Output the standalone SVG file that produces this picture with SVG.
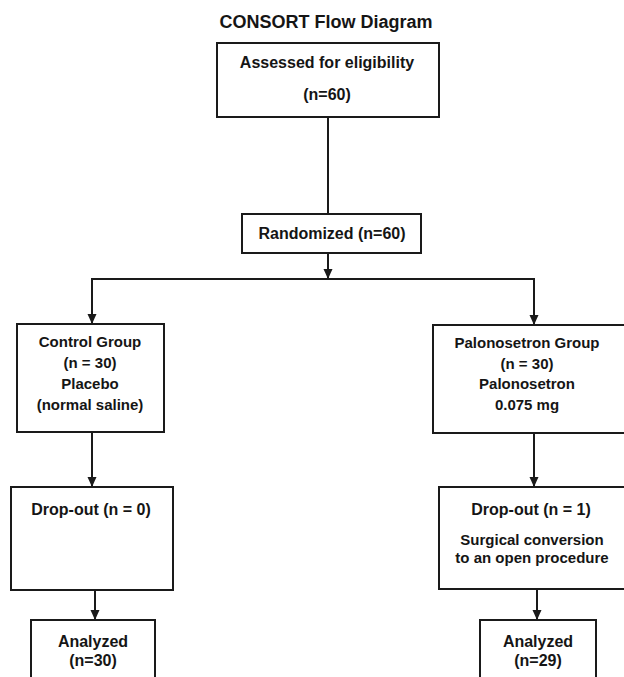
<svg xmlns="http://www.w3.org/2000/svg" width="624" height="677" viewBox="0 0 624 677">
<style>
  .box { fill: #ffffff; stroke: #1a1a1a; stroke-width: 2; }
  .conn { fill: none; stroke: #1a1a1a; stroke-width: 2; }
  .t { font-family: "Liberation Sans", Arial, sans-serif; font-weight: bold; fill: #151515; text-anchor: middle; }
  .s16 { font-size: 16px; }
  .s15 { font-size: 15px; }
  .title { font-family: "Liberation Sans", Arial, sans-serif; font-weight: bold; font-size: 18px; fill: #151515; text-anchor: middle; }
</style>
<defs>
  <marker id="arrow" markerUnits="userSpaceOnUse" markerWidth="10" markerHeight="10" viewBox="0 0 10 10" refX="10" refY="5" orient="auto">
    <path d="M0,0.5 L10,5 L0,9.5 Z" fill="#1a1a1a"/>
  </marker>
</defs>
<rect x="0" y="0" width="624" height="677" fill="#ffffff"/>

<text id="title" class="title" x="326" y="28">CONSORT Flow Diagram</text>

<g id="connectors">
  <line class="conn" x1="328" y1="117" x2="328" y2="214"/>
  <line class="conn" x1="328" y1="253" x2="328" y2="279" marker-end="url(#arrow)"/>
  <line class="conn" x1="91" y1="279" x2="535" y2="279"/>
  <line class="conn" x1="92" y1="278" x2="92" y2="324" marker-end="url(#arrow)"/>
  <line class="conn" x1="534" y1="278" x2="534" y2="325" marker-end="url(#arrow)"/>
  <line class="conn" x1="92" y1="432" x2="92" y2="487" marker-end="url(#arrow)"/>
  <line class="conn" x1="534" y1="433" x2="534" y2="487" marker-end="url(#arrow)"/>
  <line class="conn" x1="95" y1="590" x2="95" y2="620" marker-end="url(#arrow)"/>
  <line class="conn" x1="537" y1="589" x2="537" y2="620" marker-end="url(#arrow)"/>
</g>

<g id="assessed">
  <rect class="box" x="217" y="43" width="222" height="74"/>
  <text class="t s16" x="327" y="68">Assessed for eligibility</text>
  <text class="t s16" x="327" y="100">(n=60)</text>
</g>

<g id="randomized">
  <rect class="box" x="242" y="214" width="179" height="39"/>
  <text class="t s16" x="332" y="239">Randomized (n=60)</text>
</g>

<g id="control">
  <rect class="box" x="17" y="324" width="147" height="108"/>
  <text class="t s15" x="90" y="347">Control Group</text>
  <text class="t s15" x="90" y="368">(n = 30)</text>
  <text class="t s15" x="90" y="389">Placebo</text>
  <text class="t s15" x="90" y="410">(normal saline)</text>
</g>

<g id="palonosetron">
  <rect class="box" x="433" y="325" width="200" height="108"/>
  <text class="t s15" x="527" y="348">Palonosetron Group</text>
  <text class="t s15" x="527" y="369">(n = 30)</text>
  <text class="t s15" x="527" y="389">Palonosetron</text>
  <text class="t s15" x="527" y="410">0.075 mg</text>
</g>

<g id="dropout-control">
  <rect class="box" x="11" y="487" width="162" height="103"/>
  <text class="t s16" x="91" y="515">Drop-out (n = 0)</text>
</g>

<g id="dropout-palonosetron">
  <rect class="box" x="439" y="487" width="200" height="102"/>
  <text class="t s16" x="531" y="515">Drop-out (n = 1)</text>
  <text class="t s15" x="532" y="545">Surgical conversion</text>
  <text class="t s15" x="532" y="563">to an open procedure</text>
</g>

<g id="analyzed-control">
  <rect class="box" x="31" y="620" width="124" height="70"/>
  <text class="t s16" x="93" y="647">Analyzed</text>
  <text class="t s16" x="93" y="666">(n=30)</text>
</g>

<g id="analyzed-palonosetron">
  <rect class="box" x="480" y="620" width="116" height="70"/>
  <text class="t s16" x="538" y="647">Analyzed</text>
  <text class="t s16" x="538" y="666">(n=29)</text>
</g>
</svg>
